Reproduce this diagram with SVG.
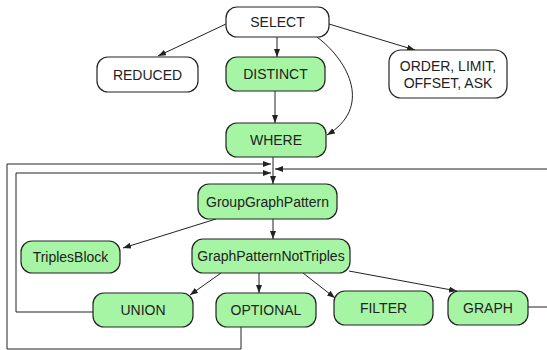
<svg xmlns="http://www.w3.org/2000/svg" width="547" height="350" viewBox="0 0 547 350">
<style>
.n rect{stroke:#222;stroke-width:1.2;}
.w rect{fill:#ffffff;}
.g rect{fill:#a6f5a4;}
text{font-family:"Liberation Sans",Arial,sans-serif;font-size:14px;fill:#222;text-anchor:middle;dominant-baseline:central;}
.e path{fill:none;stroke:#222;stroke-width:1;}
</style>
<defs>
<marker id="ah" markerUnits="userSpaceOnUse" markerWidth="9" markerHeight="7" refX="8" refY="3" orient="auto">
<path d="M0,0 L8,3 L0,6 z" fill="#222"/>
</marker>
</defs>
<g class="e">
<path d="M226,24 L158,56" marker-end="url(#ah)"/>
<path d="M277,37 V57" marker-end="url(#ah)"/>
<path d="M329,24 L415,50" marker-end="url(#ah)"/>
<path d="M317,37 C350,62 372,108 327,135" marker-end="url(#ah)"/>
<path d="M275,91 V123" marker-end="url(#ah)"/>
<path d="M273,157 V184" marker-end="url(#ah)"/>
<path d="M216,219 L123,248" marker-end="url(#ah)"/>
<path d="M273,219 V239" marker-end="url(#ah)"/>
<path d="M221,273 L190,295" marker-end="url(#ah)"/>
<path d="M259,273 V293" marker-end="url(#ah)"/>
<path d="M303,273 L335,298" marker-end="url(#ah)"/>
<path d="M349,271 L457,291" marker-end="url(#ah)"/>
<path d="M241,327 V349 H7 V164 H271" marker-end="url(#ah)"/>
<path d="M93,312 H16 V173 H271" marker-end="url(#ah)"/>
<path d="M528,307 H560 V169 H275" marker-end="url(#ah)"/>
</g>
<g id="select" class="n w"><rect x="226" y="7" width="103" height="30" rx="11"/><text x="277.5" y="22">SELECT</text></g>
<g id="reduced" class="n w"><rect x="97" y="57" width="101" height="35" rx="11"/><text x="147.5" y="74.5">REDUCED</text></g>
<g id="distinct" class="n g"><rect x="226" y="57" width="99" height="34" rx="11"/><text x="275.5" y="74">DISTINCT</text></g>
<g id="order" class="n w"><rect x="389" y="50" width="118" height="48" rx="12"/><text x="448" y="66">ORDER, LIMIT,</text><text x="448" y="83">OFFSET, ASK</text></g>
<g id="where" class="n g"><rect x="226" y="123" width="100" height="34" rx="11"/><text x="276" y="140">WHERE</text></g>
<g id="ggp" class="n g"><rect x="198" y="184" width="139" height="35" rx="11"/><text x="267.5" y="201.5">GroupGraphPattern</text></g>
<g id="triples" class="n g"><rect x="21" y="241" width="99" height="32" rx="11"/><text x="70.5" y="257">TriplesBlock</text></g>
<g id="gpnt" class="n g"><rect x="192" y="239" width="158" height="34" rx="11"/><text x="271" y="256">GraphPatternNotTriples</text></g>
<g id="union" class="n g"><rect x="93" y="293" width="100" height="34" rx="11"/><text x="143" y="310">UNION</text></g>
<g id="optional" class="n g"><rect x="216" y="293" width="100" height="34" rx="11"/><text x="266" y="310">OPTIONAL</text></g>
<g id="filter" class="n g"><rect x="334" y="291" width="99" height="34" rx="11"/><text x="383.5" y="308">FILTER</text></g>
<g id="graph" class="n g"><rect x="448" y="291" width="80" height="34" rx="11"/><text x="488" y="308">GRAPH</text></g>
</svg>
